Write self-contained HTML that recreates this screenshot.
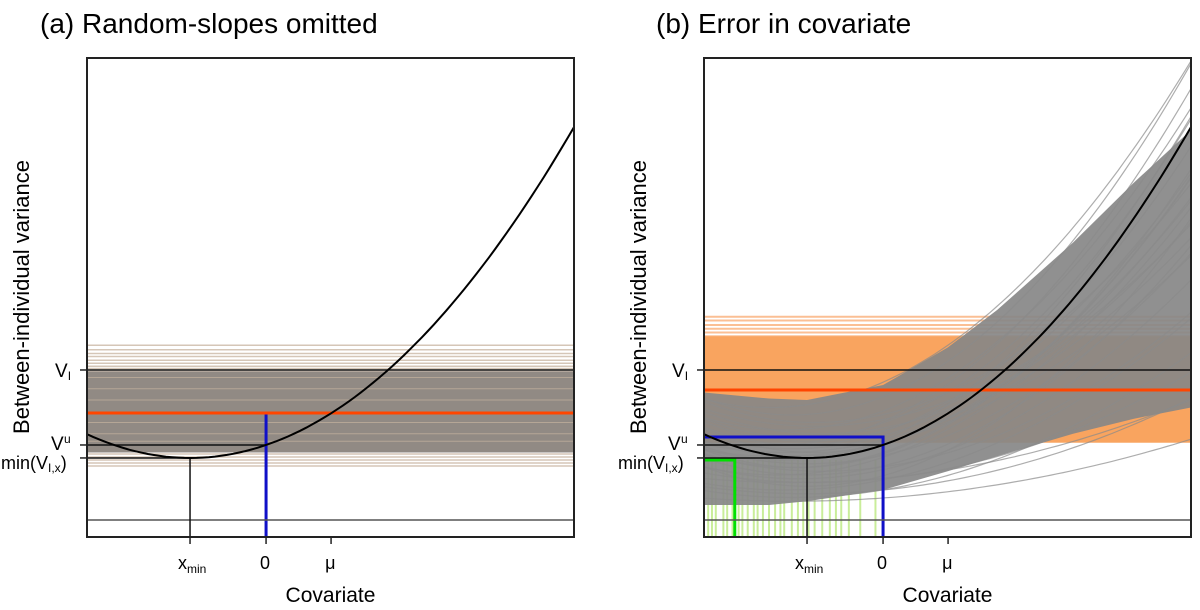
<!DOCTYPE html>
<html><head><meta charset="utf-8"><style>
html,body{margin:0;padding:0;background:#fff;}
svg{display:block;font-family:"Liberation Sans",sans-serif;}
</style></head><body>
<svg id="chart" width="1200" height="610" viewBox="0 0 1200 610">
<text x="40" y="33" font-size="28">(a) Random-slopes omitted</text>
<text x="656" y="33" font-size="28">(b) Error in covariate</text>
<g id="pa"></g>
<g id="pb"></g>
</svg>
<script>
// ---- data ----
const xDomain = [-2.355, 4.05];
const yDomain = [-0.227, 6.16];
const xTickVals = [-1, 0, 0.855];
const xTickLabels = ["x", "0", "μ"];
const vI = 2.0;
const vU = 1.0;
const vMinVal = 0.827;
const xMinVal = -1.0;
const curveK = 0.173;
const orangeA = 1.427;
const orangeB = 1.733;
const blueB = 1.107;
const greenBx = -1.95;
const greenBy = 0.8;
// panel a: omitted-slope intercept draws
const drawsA = [2.33,2.27,2.22,2.18,2.13,2.09,2.05,2.02,1.98,1.95,1.92,1.88,1.85,1.82,1.78,1.75,1.72,1.69,1.66,1.62,1.58,1.55,1.52,1.48,1.45,1.41,1.38,1.35,1.31,1.28,1.24,1.2,1.16,1.12,1.08,1.04,1.0,0.96,0.92,0.88,0.84,0.8,0.76,0.72];
// panel b: orange horizontal draws
const drawsB = [2.71,2.66,2.6,2.55,2.5,2.45,2.4,2.36,2.31,2.27,2.22,2.18,2.13,2.09,2.05,2.0,1.96,1.91,1.87,1.82,1.78,1.73,1.69,1.64,1.6,1.55,1.5,1.45,1.4,1.35,1.3,1.25,1.2,1.15,1.1,1.05];
// panel b: gray curve draws (minimum, centre, curvature)
const curveM = [0.25,0.35,0.4,0.5,0.55,0.6,0.65,0.7,0.75,0.8,0.85,0.9,0.95,1.0,1.05,1.1,1.2,1.3,1.4,1.5,0.45,0.7,0.9,1.15,0.3,0.6,0.85,1.0,1.25,0.5];
const curveC = [-1.2,-1.0,-1.3,-0.9,-1.1,-1.4,-0.8,-1.2,-1.0,-1.3,-1.1,-0.9,-1.2,-1.4,-1.0,-1.1,-1.3,-0.9,-1.2,-1.5,-1.0,-1.1,-1.3,-0.8,-1.2,-1.0,-1.4,-1.1,-0.9,-1.2];
const curveKs = [0.03,0.05,0.08,0.06,0.1,0.12,0.09,0.14,0.11,0.16,0.13,0.15,0.12,0.16,0.14,0.16,0.15,0.13,0.17,0.15,0.14,0.15,0.1,0.12,0.07,0.12,0.09,0.15,0.11,0.04];
// panel b: dense core envelope (x, lower V, upper V)
const coreX = [-2.355,-1.5,-1.0,0,0.85,1.5,2.5,3.3,4.05];
const coreLo = [0.2,0.2,0.25,0.4,0.65,0.85,1.15,1.35,1.5];
const coreHi = [1.7,1.62,1.6,1.8,2.3,2.8,3.7,4.5,5.2];
// panel b: green x-draws
const greenX = [-2.3,-2.25,-2.2,-2.1,-2.05,-1.98,-1.9,-1.85,-1.78,-1.7,-1.65,-1.58,-1.5,-1.42,-1.35,-1.3,-1.2,-1.12,-1.05,-0.98,-0.9,-0.8,-0.7,-0.62,-0.55,-0.45,-0.3,-0.1];

const NS = "http://www.w3.org/2000/svg";
function mk(parent, tag, attrs, name, text){
  const el = document.createElementNS(NS, tag);
  for (const k in attrs) el.setAttribute(k, attrs[k]);
  
  
  if (text !== undefined) el.textContent = text;
  parent.appendChild(el);
  return el;
}
function panel(gid, L, R, drawType){
  const g = document.getElementById(gid);
  const T = 58, B = 537;
  const sx = v => L + (v - xDomain[0]) / (xDomain[1] - xDomain[0]) * (R - L);
  const sy = v => B - (v - yDomain[0]) / (yDomain[1] - yDomain[0]) * (B - T);
  const clipId = gid + "clip";
  const defs = mk(g, "defs", {}, "defs");
  const cp = mk(defs, "clipPath", {id: clipId}, "clip");
  mk(cp, "rect", {x: L, y: T, width: R - L, height: B - T}, "clip-rect");
  const pg = mk(g, "g", {"clip-path": "url(#" + clipId + ")"}, "plot-area");
  const curve = (m, c, k) => {
    let d = "";
    for (let i = 0; i <= 80; i++) {
      const x = xDomain[0] + (xDomain[1] - xDomain[0]) * i / 80;
      d += (i ? "L" : "M") + sx(x).toFixed(1) + "," + sy(m + k * (x - c) * (x - c)).toFixed(1);
    }
    return d;
  };
  if (drawType === "a") {
    drawsA.forEach(v => {
      mk(pg, "line", {x1: L, x2: R, y1: sy(v), y2: sy(v), stroke: "#cbb8a6", "stroke-width": 1.5, opacity: 0.8}, "intercept-draw");
    });
    mk(pg, "rect", {x: L, y: sy(1.98), width: R - L, height: sy(0.9) - sy(1.98), fill: "#918a84"}, "draw-band-core");
    [1.9,1.75,1.6,1.3,1.15,1.05].forEach(v => {
      mk(pg, "line", {x1: L, x2: R, y1: sy(v), y2: sy(v), stroke: "#b5a696", "stroke-width": 1}, "intercept-draw-light");
    });
    mk(pg, "line", {x1: sx(0), x2: sx(0), y1: sy(orangeA), y2: B, stroke: "#1010c8", "stroke-width": 3}, "blue-line");
    mk(pg, "line", {x1: L, x2: R, y1: sy(orangeA), y2: sy(orangeA), stroke: "#ff4500", "stroke-width": 3}, "orange-estimate-line");
  } else {
    drawsB.forEach(v => {
      mk(pg, "line", {x1: L, x2: R, y1: sy(v), y2: sy(v), stroke: "#fbb07a", "stroke-width": 2, opacity: 0.8}, "orange-draw");
    });
    mk(pg, "rect", {x: L, y: sy(2.45), width: R - L, height: sy(1.03) - sy(2.45), fill: "#f9a45f"}, "orange-band-core");
    greenX.forEach(v => {
      mk(pg, "line", {x1: sx(v), x2: sx(v), y1: sy(0.8), y2: B, stroke: "#c4ec90", "stroke-width": 2, opacity: 0.9}, "green-draw");
    });
    let d = "";
    coreX.forEach((x, i) => { d += (i ? "L" : "M") + sx(x).toFixed(1) + "," + sy(coreHi[i]).toFixed(1); });
    for (let i = coreX.length - 1; i >= 0; i--) d += "L" + sx(coreX[i]).toFixed(1) + "," + sy(coreLo[i]).toFixed(1);
    mk(pg, "path", {d: d + "Z", fill: "#878787", opacity: 0.92}, "gray-curve-core");
    curveM.forEach((m, i) => {
      mk(pg, "path", {d: curve(m, curveC[i], curveKs[i]), fill: "none", stroke: "#8a8a8a", "stroke-width": 1.2, opacity: 0.7}, "gray-curve-draw");
    });
    mk(pg, "line", {x1: L, x2: R, y1: sy(orangeB), y2: sy(orangeB), stroke: "#ff4500", "stroke-width": 3}, "orange-estimate-line");
    mk(pg, "polyline", {points: L + "," + sy(blueB) + " " + sx(0) + "," + sy(blueB) + " " + sx(0) + "," + B, fill: "none", stroke: "#1010c8", "stroke-width": 3}, "blue-line");
    mk(pg, "polyline", {points: L + "," + sy(greenBy) + " " + sx(greenBx) + "," + sy(greenBy) + " " + sx(greenBx) + "," + B, fill: "none", stroke: "#00e000", "stroke-width": 3}, "green-line");
  }
  mk(pg, "line", {x1: L, x2: R, y1: sy(0), y2: sy(0), stroke: "#555", "stroke-width": 1.5}, "zero-line");
  mk(pg, "line", {x1: L, x2: R, y1: sy(vI), y2: sy(vI), stroke: "#111", "stroke-width": 1.5}, "vi-line");
  mk(pg, "line", {x1: L, x2: sx(0), y1: sy(vU), y2: sy(vU), stroke: "#111", "stroke-width": 1.5}, "vu-line");
  mk(pg, "line", {x1: L, x2: sx(xMinVal), y1: sy(vMinVal), y2: sy(vMinVal), stroke: "#111", "stroke-width": 1.5}, "vmin-line");
  mk(pg, "line", {x1: sx(xMinVal), x2: sx(xMinVal), y1: sy(vMinVal), y2: B, stroke: "#111", "stroke-width": 1.5}, "xmin-line");
  mk(pg, "path", {d: curve(vMinVal, xMinVal, curveK), fill: "none", stroke: "#000", "stroke-width": 2}, "true-variance-curve");
  mk(g, "rect", {x: L, y: T, width: R - L, height: B - T, fill: "none", stroke: "#222", "stroke-width": 2}, "plot-frame");
  [vI, vU, vMinVal].forEach(v => mk(g, "line", {x1: L - 7, x2: L, y1: sy(v), y2: sy(v), stroke: "#222", "stroke-width": 1.5}, "y-tick"));
  const t1 = mk(g, "text", {x: L - 32, y: sy(vI) + 7, "font-size": 19}, "y-tick-label-vi", "V");
  mk(t1, "tspan", {"font-size": 12, dy: 3}, "subscript", "I");
  mk(g, "text", {x: L - 36, y: sy(vU) + 5, "font-size": 19}, "y-tick-label-vu", "V");
  mk(g, "text", {x: L - 23, y: sy(vU) - 2, "font-size": 12}, "superscript-u", "u");
  const t3 = mk(g, "text", {x: L - 86, y: sy(vMinVal) + 11, "font-size": 18}, "y-tick-label-min", "min(V");
  mk(t3, "tspan", {"font-size": 12, dy: 3}, "subscript", "I,x");
  mk(t3, "tspan", {dy: -3}, "paren", ")");
  xTickVals.forEach((v, i) => {
    mk(g, "line", {x1: sx(v), x2: sx(v), y1: B, y2: B + 7, stroke: "#222", "stroke-width": 1.5}, "x-tick");
    const t = mk(g, "text", {x: sx(v) - (i === 0 ? 12 : 6), y: B + 32, "font-size": 18}, "x-tick-label", xTickLabels[i]);
    if (i === 0) mk(t, "tspan", {"font-size": 12, dy: 4}, "subscript", "min");
  });
  mk(g, "text", {x: (L + R) / 2, y: 602, "font-size": 21, "text-anchor": "middle"}, "x-axis-title", "Covariate");
  mk(g, "text", {x: 0, y: 0, "font-size": 22, "text-anchor": "middle", transform: "translate(" + (L - 58) + ",297) rotate(-90)"}, "y-axis-title", "Between-individual variance");
}
panel("pa", 87, 574, "a");
panel("pb", 704, 1191, "b");
</script>
</body></html>
